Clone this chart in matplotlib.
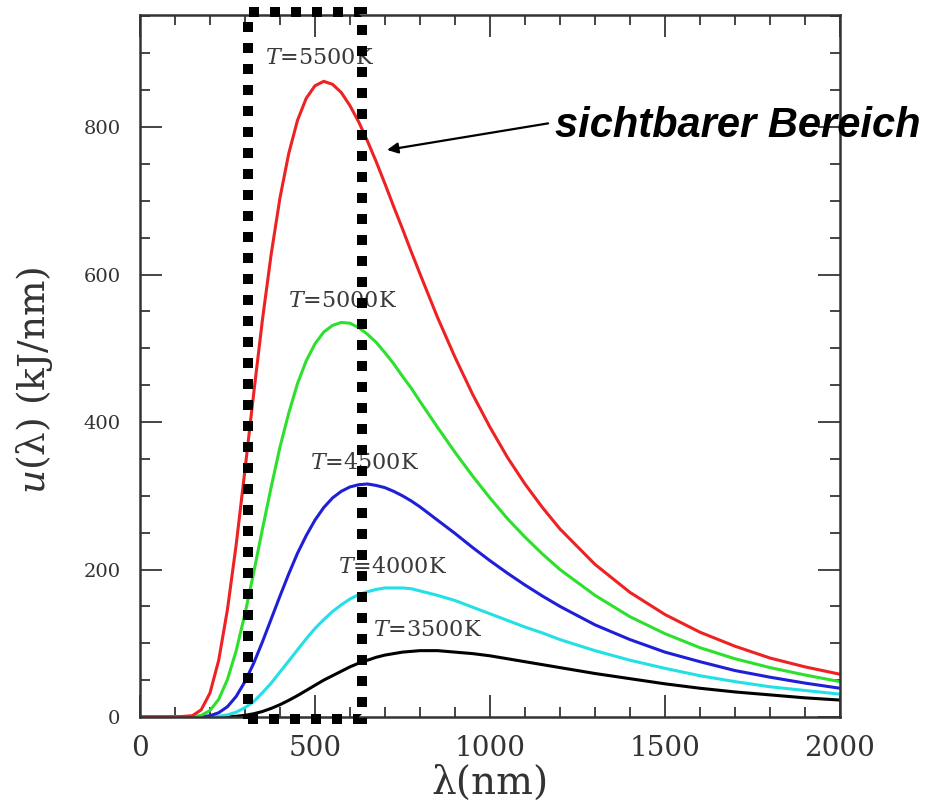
import matplotlib
matplotlib.use('Agg')
import matplotlib.pyplot as plt
from matplotlib.patches import Rectangle
from matplotlib.ticker import MultipleLocator

plt.rcParams['font.family'] = ['DejaVu Serif']
plt.rcParams['mathtext.fontset'] = 'dejavuserif'

# %% values (wavelength in nm, u in kJ/nm)
lam = [0, 100, 150, 175, 200, 225, 250, 275, 300, 325,
       350, 375, 400, 425, 450, 475, 500, 525, 550, 575,
       600, 625, 650, 675, 700, 725, 750, 775, 800, 850,
       900, 950, 1000, 1050, 1100, 1150, 1200, 1300, 1400, 1500,
       1600, 1700, 1800, 1900, 2000]
u5500 = [0, 0, 1.8, 9.8, 32.5, 77, 146, 234, 335, 439,
         539, 628, 704, 764, 809, 839, 856, 862, 858, 847,
         829, 807, 781, 753, 723, 692, 662, 631, 601, 542,
         488, 438, 393, 352, 316, 284, 255, 207, 169, 139,
         115, 96, 80, 68, 58]
u5000 = [0, 0, 0.3, 2.2, 8.8, 24, 51, 90, 140, 196,
         255, 312, 366, 412, 452, 483, 506, 522, 531, 535,
         534, 528, 519, 508, 494, 479, 462, 446, 428, 393,
         359, 327, 297, 269, 244, 221, 200, 165, 136, 113,
         94, 79, 67, 57, 48]
u4500 = [0, 0, 0, 0.35, 1.8, 5.8, 14, 28, 48, 73,
         102, 133, 164, 194, 222, 246, 267, 284, 297, 306,
         312, 315, 316, 314, 311, 306, 300, 293, 285, 267,
         249, 230, 212, 195, 179, 164, 150, 125, 105, 88,
         75, 63, 54, 46, 39]
u4000 = [0, 0, 0, 0, 0.24, 1.0, 2.9, 6.6, 12.7, 21,
         33, 46, 61, 76, 91, 106, 120, 132, 143, 152,
         160, 166, 170, 173, 175, 175, 175, 174, 171, 165,
         158, 149, 140, 131, 122, 114, 105, 90, 77, 66,
         56, 48, 41, 36, 31]
u3500 = [0, 0, 0, 0, 0, 0.1, 0.4, 1.0, 2.3, 4.4,
         7.5, 11.7, 16.7, 22.6, 29, 36, 43, 50, 56, 62,
         68, 73, 77, 81, 84, 86, 88, 89, 90, 90,
         88, 86, 83, 79, 75, 71, 67, 59, 52, 45,
         39, 34, 30, 26, 23]

curves = [u3500, u4000, u4500, u5000, u5500]
colors = ['black', '#22e0e6', '#1f1fd8', '#2ee02e', '#ee2222']
labels = ['$T$=3500K', '$T$=4000K', '$T$=4500K', '$T$=5000K', '$T$=5500K']
label_pos = [(823, 118), (723, 203), (643, 344), (580, 564), (514, 894)]

# visible range box (nm)
vis_lo, vis_hi = 309, 634

# %% plot
fig = plt.figure(figsize=(9.3, 8.05), dpi=100)
ax = fig.add_axes([0.1505, 0.1093, 0.7527, 0.8721])

for u, c in zip(curves, colors):
    ax.plot(lam, u, color=c, lw=2.2, solid_capstyle='round',
            solid_joinstyle='round')

for txt, (x, y) in zip(labels, label_pos):
    ax.text(x, y, txt, fontsize=16, color='#3a3a3a', ha='center', va='center')

ax.add_patch(Rectangle((vis_lo, -3), vis_hi - vis_lo, 959, fill=False,
                       edgecolor='black', lw=7.2, linestyle=(0, (1, 1.1)),
                       clip_on=False, zorder=5))

ax.annotate('', xy=(706, 769), xytext=(1166, 805),
            arrowprops=dict(arrowstyle='-|>', color='black', lw=1.6,
                            mutation_scale=16, shrinkA=0, shrinkB=0),
            annotation_clip=False)
ax.text(1186, 802, 'sichtbarer Bereich', fontsize=30, fontweight='bold',
        style='italic', family='Liberation Sans', va='center', ha='left')

ax.set_xlim(0, 2000)
ax.set_ylim(0, 952)
ax.xaxis.set_major_locator(MultipleLocator(500))
ax.xaxis.set_minor_locator(MultipleLocator(100))
ax.yaxis.set_major_locator(MultipleLocator(200))
ax.yaxis.set_minor_locator(MultipleLocator(50))
ax.tick_params(which='both', direction='in', top=True, right=True,
               color='#444444', width=1.4)
ax.tick_params(which='major', length=16)
ax.tick_params(which='minor', length=7)
ax.tick_params(axis='x', labelsize=20, pad=13, labelcolor='#333333')
ax.tick_params(axis='y', labelsize=14, pad=14, labelcolor='#333333')
for s in ax.spines.values():
    s.set_color('#333333')
    s.set_linewidth(1.8)

ax.set_xlabel('λ(nm)', fontsize=28, color='#333333', labelpad=2)
ax.set_ylabel('$u$(λ) (kJ/nm)', fontsize=27, color='#333333')
ax.yaxis.set_label_coords(-0.122, 0.48)

fig.savefig('out.png', dpi=100)
